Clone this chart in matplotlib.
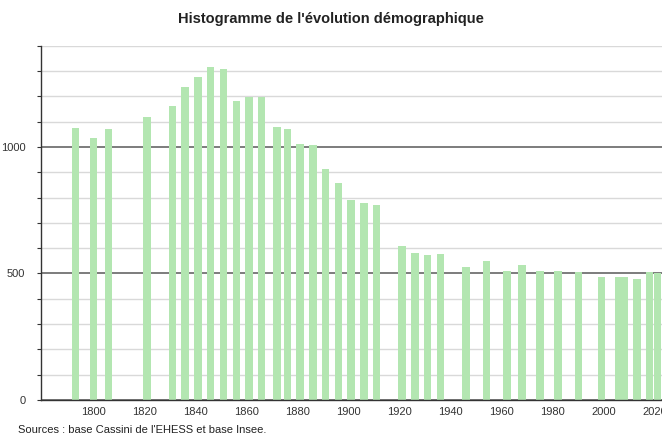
import matplotlib
matplotlib.use("Agg")
import matplotlib.pyplot as plt
from matplotlib.ticker import MultipleLocator, FixedLocator

years = [1793, 1800, 1806, 1821, 1831, 1836, 1841, 1846, 1851, 1856, 1861, 1866,
         1872, 1876, 1881, 1886, 1891, 1896, 1901, 1906, 1911, 1921, 1926, 1931,
         1936, 1946, 1954, 1962, 1968, 1975, 1982, 1990, 1999, 2006, 2008, 2013,
         2018, 2021]
population = [1075, 1037, 1070, 1119, 1162, 1235, 1278, 1317, 1307, 1182, 1198, 1198,
              1080, 1070, 1012, 1008, 914, 856, 789, 780, 770, 607, 580, 571,
              576, 527, 551, 509, 533, 508, 509, 505, 485, 485, 485, 480,
              505, 500]
x_labels = [1800, 1820, 1840, 1860, 1880, 1900, 1920, 1940, 1960, 1980, 2000, 2020]
y_labels = [0, 500, 1000]

title = "Histogramme de l'évolution démographique"
source = "Sources : base Cassini de l'EHESS et base Insee."

plt.rcParams['font.family'] = ['Liberation Sans Narrow', 'Liberation Sans', 'DejaVu Sans']

fig = plt.figure(figsize=(6.62, 4.41), dpi=100)
ax = fig.add_axes([0.0615, 0.093, 0.9385, 0.8034])

ax.set_xlim(1779.4, 2022.8)
ax.set_ylim(0, 1400)

# grid
ax.yaxis.set_minor_locator(MultipleLocator(100))
ax.yaxis.set_major_locator(FixedLocator(y_labels))
ax.grid(axis='y', which='minor', color='#d9d9d9', linewidth=1.0, zorder=0)
ax.grid(axis='y', which='major', color='#666666', linewidth=1.2, zorder=0)
ax.grid(axis='x', visible=False)

ax.bar(years, population, width=2.9, color='#b3e6b1', zorder=2)

ax.set_xticks(x_labels)
ax.set_xticklabels([str(v) for v in x_labels])
ax.tick_params(axis='x', length=0, pad=5, labelsize=8, labelcolor='#333333')
ax.tick_params(axis='y', which='major', length=3, width=0.8, color='#333333',
               pad=8, labelsize=8, labelcolor='#333333')
ax.tick_params(axis='y', which='minor', length=3, width=0.8, color='#333333')

for s in ['top', 'right']:
    ax.spines[s].set_visible(False)
ax.spines['left'].set_color('#333333')
ax.spines['left'].set_linewidth(1.0)
ax.spines['bottom'].set_color('#333333')
ax.spines['bottom'].set_linewidth(1.0)

fig.text(0.5, 0.958, title, ha='center', va='center', fontsize=10.5,
         fontweight='bold', color='#222222')
fig.text(0.027, 0.013, source, ha='left', va='bottom', fontsize=8, color='#222222')

fig.savefig('out.png', dpi=100)
